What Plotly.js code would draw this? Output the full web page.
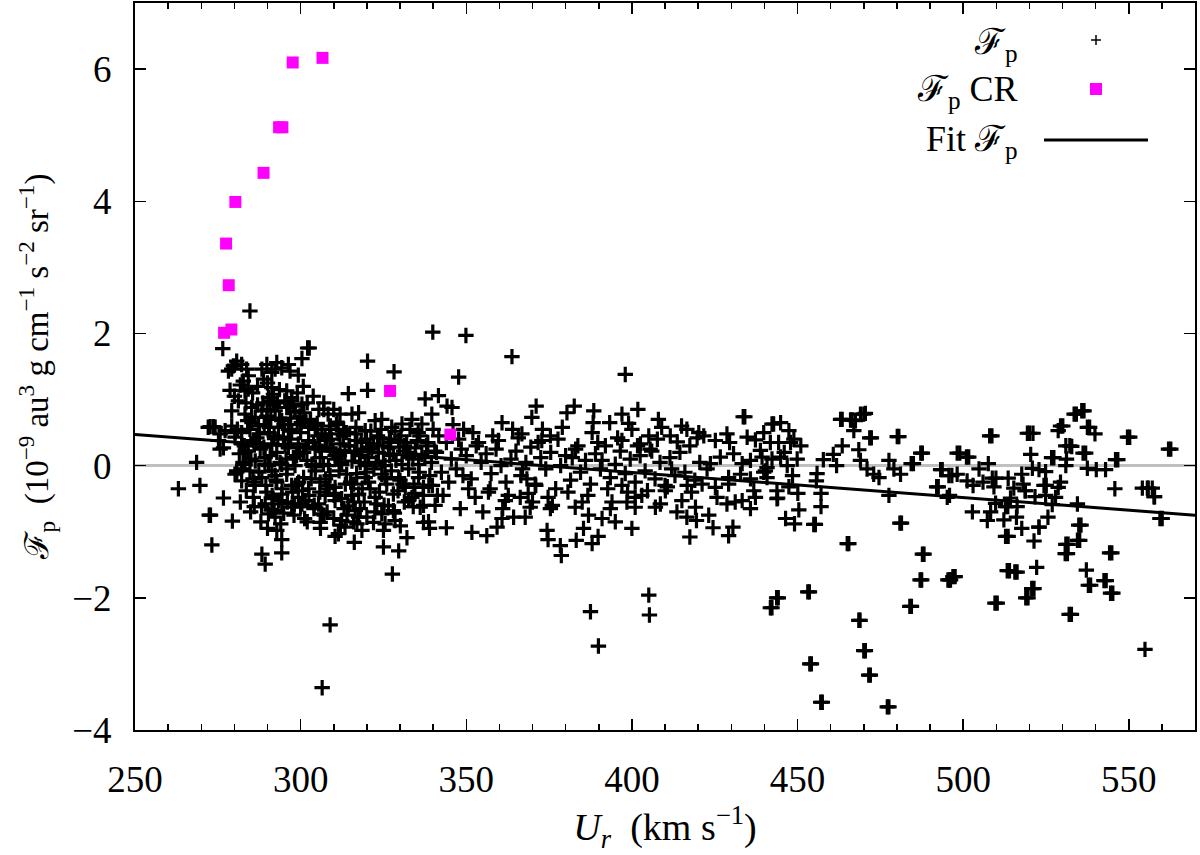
<!DOCTYPE html>
<html>
<head>
<meta charset="utf-8">
<script src="https://cdn.plot.ly/plotly-3.0.1.min.js"></script>
<style>html,body{margin:0;padding:0;background:#fff;}#chart{width:1200px;height:855px;}</style>
</head>
<body>
<div id="chart"></div>
<script>
// ---- Data ----
// Fp (black plus) : left dense region
const urA1 = [278.2,279.7,280.7,282.2,283.7,284.2,282.7,279.2,283.2,284.2,278.7,288.3,289.8,291.3,292.8,294.3,296.3,296.8,288.8,292.3,291.3,291.8,295.8,297.3,290.8,290.3,299.3,300.4,302.1,302.6,284.7,276.5];
const fpA1 = [1.43,1.51,1.58,1.53,1.46,1.36,1.28,1.46,1.13,1.16,1.14,1.46,1.53,1.41,1.56,1.48,1.53,1.43,1.31,1.46,1.18,1.08,1.13,1.03,0.98,1.03,1.37,1.62,1.78,1.78,2.34,1.77];
const urA2 = [279.2,281.2,283.2,285.2,286.3,288.3,289.8,287.3,292.3,294.3,295.8,297.3,298.3,300.4,299.8,293.3,279.2,280.2,277.2,275.7,273.7,272.7,282.2,284.7,290.3,296.3,302.4,304.4,306.4,301.4];
const fpA2 = [0.83,0.98,0.78,0.88,0.73,0.83,0.75,0.60,0.83,0.68,0.88,0.98,0.83,0.93,0.75,0.58,0.60,0.50,0.53,0.48,0.59,0.59,0.50,0.55,0.50,0.55,0.58,0.55,0.48,0.68];
const urA3 = [275.2,276.7,280.2,282.2,284.2,285.7,287.8,289.3,291.3,292.8,294.8,296.3,297.8,299.3,300.9,302.4,304.4,305.9,307.4,308.9,310.4,311.9,313.4,315.5,317.0,318.5,320.5,322.0,323.5,325.0,326.5,328.0,329.6,331.1,332.6,334.6,336.6,283.2,286.3,290.3,294.3,298.3,303.4,308.4,312.4,319.5,325.5,330.6,335.6,319.5,322.5,324.5,327.5,330.6,333.6,336.6,316.5,311.4,311.9,315.5,317.5];
const fpA3 = [0.38,0.27,0.43,0.33,0.22,0.38,0.25,0.12,0.33,0.20,0.43,0.27,0.12,0.33,0.20,0.38,0.25,0.12,0.43,0.27,0.15,0.33,0.20,0.07,0.38,0.25,0.12,0.33,0.20,0.07,0.27,0.17,0.38,0.22,0.12,0.27,0.17,0.02,0.07,0.00,0.02,0.00,0.02,0.00,0.02,0.00,0.00,0.02,0.02,0.53,0.68,0.70,0.58,0.63,0.70,0.63,0.48,0.48,0.78,0.78,0.80];
const urA4 = [280.2,282.2,284.7,286.3,288.3,289.8,291.3,292.8,294.3,295.8,297.3,299.3,300.9,302.4,304.4,305.9,307.4,308.9,310.4,312.4,313.9,316.0,317.5,319.5,321.0,322.5,324.5,326.0,328.0,329.6,331.6,333.6,335.6,337.1,280.7,285.7,293.3,301.4,310.4];
const fpA4 = [-0.13,-0.23,-0.08,-0.30,-0.18,-0.40,-0.08,-0.25,-0.43,-0.13,-0.30,-0.48,-0.18,-0.35,-0.08,-0.25,-0.45,-0.15,-0.33,-0.50,-0.13,-0.28,-0.43,-0.18,-0.35,-0.48,-0.13,-0.28,-0.43,-0.18,-0.33,-0.48,-0.18,-0.33,-0.10,-0.48,-0.53,-0.53,-0.53];
const urA5 = [289.3,290.3,291.3,292.3,294.3,305.4,306.4,305.9,314.4,316.5,317.5,317.0,318.5,312.4,313.4,311.4,324.5,325.5,325.0,328.0,328.5,330.1,322.0,323.0,326.5,332.6,336.1,337.1,300.4,297.3];
const fpA5 = [-0.58,-0.73,-0.66,-0.78,-0.58,-0.58,-0.73,-0.86,-0.61,-0.68,-0.78,-0.88,-0.98,-0.83,-0.93,-1.03,-0.73,-0.88,-0.98,-0.68,-0.83,-0.91,-0.86,-0.58,-0.61,-0.53,-0.63,-0.86,-0.58,-0.63];
const urA6 = [281.5,283.0,285.0,286.8,288.9,290.8,292.0,293.8,295.3,297.0,298.8,300.0,301.9,303.9,305.2,306.9,308.0,309.8,311.0,312.9,314.8,316.3,318.0,319.9,321.5,323.2,324.9,326.8,328.8,330.3,332.0,333.9,335.2];
const fpA6 = [0.18,0.30,0.10,0.42,0.28,0.15,0.45,0.05,0.32,0.40,0.15,0.50,0.08,0.35,0.45,0.02,0.38,0.22,0.10,0.45,0.30,0.20,0.05,0.40,0.25,0.45,0.30,0.40,0.08,0.45,0.35,0.10,0.38];
const urA7 = [282.1,283.6,285.6,287.4,289.5,291.4,292.6,294.4,295.9,297.6,299.4,300.6,302.5,304.5,305.8,307.5,308.6,310.4,311.6,313.5,315.4,316.9,318.6,320.5,322.1,323.8,325.5,327.4,329.4,330.9,332.6,334.5,335.8];
const fpA7 = [-0.05,-0.38,-0.20,-0.10,-0.30,-0.45,-0.22,-0.35,-0.05,-0.40,-0.25,-0.38,-0.45,-0.02,-0.40,-0.20,-0.30,-0.42,-0.08,-0.28,-0.45,-0.12,-0.35,-0.25,-0.05,-0.40,-0.18,-0.08,-0.38,-0.28,-0.05,-0.42,-0.10];
const urA8 = [285.3,287.0,289.0,291.0,293.0,295.0,297.0,299.0,301.0,303.0,305.0,307.0,309.0,311.0,313.0,286.0,288.0,290.0,292.0,294.0,296.0,298.0,300.0,302.0,304.0,306.0,308.0,310.0,312.0,314.0,316.0,318.0,320.0];
const fpA8 = [0.65,0.92,0.62,0.70,0.95,0.62,0.72,0.62,0.80,0.70,0.64,0.85,0.60,0.66,0.55,-0.62,-0.85,-0.95,-0.68,-0.88,-0.55,-0.75,-0.62,-0.85,-0.65,-0.95,-0.70,-0.80,-0.90,-0.75,-0.55,-0.65,-0.78];
const urA9 = [280.9,282.6,284.0,285.9,287.6,289.2,290.6,292.3,293.6,295.6,297.3,298.5,300.2,301.7,303.2,304.8,306.3,307.8,309.3,310.8,312.3,313.8,315.1,316.7,318.3,319.8,321.2,322.8,324.3,325.8,327.2,328.5,330.0,331.4,333.0,334.2,336.0,337.5,339.0,340.5];
const fpA9 = [0.55,0.05,0.68,-0.25,0.48,0.02,0.58,-0.15,0.72,0.10,0.52,-0.30,0.65,0.28,-0.20,0.60,0.22,-0.35,0.40,0.62,0.05,0.50,-0.25,0.58,0.35,-0.10,0.52,0.05,0.55,-0.20,0.35,0.52,-0.22,0.30,0.55,-0.28,0.45,0.12,-0.15,0.22];
const urA10 = [281.8,283.3,284.9,286.5,288.2,289.9,291.6,293.1,294.9,296.6,298.1,299.8,301.2,302.9,304.1,305.6,307.1,308.7,310.1,311.7,313.1,314.6,316.0,317.8,319.2,320.9,322.4,324.0,325.2,326.9,328.3,329.8,331.3,332.9,334.0,335.5,337.0,338.4,339.8,341.3];
const fpA10 = [-0.55,0.22,-0.70,0.35,-0.62,0.85,-0.50,0.40,-0.72,0.88,-0.58,0.20,-0.80,0.68,-0.60,0.30,-0.75,0.55,-0.45,0.15,-0.65,0.30,-0.85,0.15,-0.55,0.28,-0.70,0.42,-0.60,0.15,-0.72,0.28,-0.55,0.20,-0.62,0.50,-0.45,0.35,-0.30,-0.45];
const urA11 = [280.0,281.8,283.5,285.5,287.0,288.6,290.0,291.8,293.6,295.2,297.8,299.0,300.8,302.0,303.8,305.5,307.0,308.3,310.0];
const fpA11 = [1.05,1.22,0.95,1.10,1.20,0.95,1.25,0.92,1.15,0.98,0.90,1.10,1.20,0.95,1.05,0.85,0.95,0.78,0.85];
const urL = [272.1,274.2,275.7,268.6,263.1,269.6,280.7,292.8,294.3,288.3,289.3,294.3,310.4,316.2,325.0,329.6,332.1,327.7,279.4,272.4,272.8,273.2,276.7,339.9,349.9,363.8,347.7,398.0,320.2,328.2,314.4,320.2,308.9,306.5];
const fpL = [0.58,0.58,0.25,0.05,-0.35,-0.30,-0.08,-0.98,-1.12,-1.34,-1.49,-1.32,-1.07,-1.16,-1.23,-1.29,-1.09,-1.64,-0.84,-0.75,-0.75,-1.20,-0.49,2.02,1.97,1.65,1.34,1.38,1.58,1.42,1.09,1.14,-2.41,-3.36];
// middle region 337-450
const urB1 = [337.6,341.6,344.2,345.7,339.6,349.2,360.8,369.8,371.1,366.8,380.4,382.6,388.5,388.3,393.3,397.0,399.0,401.8,408.0,375.4,372.8,397.0,405.1,411.6,416.6,420.2,402.6];
const fpB1 = [1.01,1.06,0.90,0.88,0.78,0.55,0.65,0.73,0.90,0.48,0.80,0.90,0.83,0.65,0.65,0.78,0.64,0.85,0.70,0.45,0.38,0.38,0.45,0.45,0.55,0.50,0.33];
const urB2 = [337.1,340.6,338.6,338.9,344.0,348.2,351.7,352.7,356.2,359.3,360.8,357.2,361.8,364.3,366.3,367.8,369.3,368.3,370.8,374.4,374.7,375.4,378.4,378.7,383.2,382.9,385.4,388.0,389.8,386.9,391.0,395.0,393.5,398.5,401.0,400.0,401.0,407.1,410.1,413.6,415.1,416.6,419.2,419.5,417.5,408.6,405.1,405.3,387.5,389.9];
const fpB2 = [-0.60,-0.60,-0.85,-0.95,-0.94,-0.65,-1.01,-0.48,-1.06,-0.93,-0.80,-0.35,-0.53,-0.78,-0.48,-0.78,-0.63,-0.20,-0.28,-0.98,-1.12,-0.65,-1.21,-1.36,-1.13,-0.63,-0.95,-1.18,-1.07,-0.75,-0.80,-0.85,-0.65,-0.55,-0.48,-0.95,-0.63,-0.63,-0.38,-0.70,-0.53,-0.78,-0.63,-0.83,-1.08,-0.58,-1.96,-2.26,-2.21,-2.73];
const urB3 = [338,339.5,341,342.5,344,345.5,347,348.5,350,351.5,353,354.5,356,357.5,359,360.5,362,363.5,365,366.5,368,369.5,371,372.5,374,375.5,377,378.5,380,381.5,383,384.5,386,387.5,389,390.5,392,393.5,395,396.5,398,399.5,401,402.5,404,405.5,407,408.5,410,411.5,413,414.5,416,417.5,419,420.5];
const fpB3 = [0.30,0.05,0.20,-0.10,0.35,0.10,-0.05,0.25,0.15,-0.20,0.30,0.05,0.18,-0.12,0.25,0.00,-0.25,0.10,0.22,-0.15,0.05,0.28,-0.30,0.12,-0.05,0.20,-0.35,0.00,0.15,-0.22,0.25,-0.10,0.08,-0.28,0.18,-0.05,0.30,-0.18,0.02,0.22,-0.12,0.10,-0.25,0.15,-0.08,0.25,-0.20,0.05,-0.30,0.12,-0.15,0.20,-0.10,0.30,-0.22,0.05];
const urB4 = [338.7,341.7,344.7,347.7,350.7,353.7,356.7,359.7,362.7,365.7,368.7,371.7,374.7,377.7,380.7,383.7,386.7,389.7,392.7,395.7,398.7,401.7,404.7,407.7,410.7,413.7,416.7,419.7];
const fpB4 = [-0.30,0.45,-0.25,0.40,-0.35,0.35,-0.40,0.38,-0.45,0.42,-0.42,0.35,-0.48,0.40,-0.40,0.30,-0.45,0.35,-0.35,0.42,-0.40,0.30,-0.38,0.40,-0.32,0.36,-0.30,0.42];
const urB5 = [340.0,343.0,346.0,349.0,352.0,355.0,358.0,361.0,364.0,367.0,370.0,373.0,376.0,379.0,382.0,385.0,388.0,391.0,394.0,397.0,400.0,403.0,406.0,409.0,412.0,415.0,418.0,446.0,448.5,451.0];
const fpB5 = [0.55,-0.45,0.62,-0.15,0.50,-0.70,0.45,-0.65,0.55,-0.05,-0.55,0.55,-0.60,0.58,0.12,-0.55,0.50,0.08,-0.55,-0.30,0.55,-0.45,0.22,0.58,-0.05,0.60,-0.40,0.20,-0.15,0.30];
// region 420-500
const urC1 = [433.6,442.3,444.9,447.4,448.9,463.5,466.0,467.5,469.0,470.5,467.0,463.5,471.8,480.1,487.2,468.5,469.0,457.8,460.8,461.8,455.9,455.7,457.1,457.1,454.9,450.4,450.1,447.4,446.4,449.1,444.0,471.0,473.0,474.6,477.6,479.1,481.1,484.3,477.6,480.9,465.0,487.7,487.0,483.9,468.5,470.0,471.5,477.1,457.0,453.7,453.1,443.7,441.8,493.2,492.0,495.4,495.2];
const fpC1 = [0.74,0.63,0.65,0.53,0.40,0.70,0.69,0.68,0.78,0.79,0.53,0.30,0.42,0.44,0.19,0.24,0.08,0.09,0.17,0.00,-0.12,-0.23,-0.42,-0.62,-0.89,-0.67,-0.42,-0.32,-0.80,-0.88,-0.49,-0.05,-0.13,-0.18,0.08,-0.05,-0.13,0.03,-0.45,-0.87,-1.18,-1.34,-1.73,-2.13,-2.34,-2.80,-3.17,-3.65,-3.58,-3.00,-1.91,-2.00,-2.15,-0.06,-0.32,-1.73,-0.48];
const urC2 = [457.5,454.2,453.6,444.2,442.3,468.9,470.5,472.0,477.6,488.2,487.5,484.4,465.5,481.4,495.9,455.4,485.0,493.7,492.5,480.6,472.3,487.7,434.1,442.8,463.0,466.5,470.0];
const fpC2 = [-3.58,-3.00,-1.91,-2.00,-2.15,-2.34,-2.80,-3.17,-3.65,-1.34,-1.73,-2.13,-1.18,-0.87,-1.73,-0.89,0.03,-0.06,-0.32,0.44,0.42,0.19,0.74,0.63,0.70,0.69,0.78];
const urC3 = [421.7,425.2,428.7,429.5,434.8,437.3,439.8,441.8,444.3,447.9,430.7,426.7,423.7,422.7,433.3,435.8,438.8,439.3,440.8,442.3,444.9,446.9,449.9,429.2,432.8,435.8,440.8,439.8,421.2,425.2,429.2,425.7,428.7,431.2,433.3,436.8,437.3,443.8,443.8,435.8,423.2,424.5,429.2,430.5,440.3];
const fpC3 = [0.45,0.38,0.48,0.35,0.43,0.39,0.50,0.35,0.35,0.35,0.18,0.13,0.03,-0.05,0.03,0.08,0.23,0.13,-0.03,0.10,0.13,0.00,0.10,-0.18,-0.13,-0.20,-0.18,-0.10,-0.28,-0.33,-0.28,-0.48,-0.58,-0.55,-0.53,-0.38,-0.48,-0.38,-0.50,-0.65,-0.75,-0.94,-1.06,-0.93,-0.08];
// region 495-565
const urD1 = [533.5,535.8,529.4,528.7,537.5,539.8,549.6,562.0,546.0,508.0,519.4,521.1,498.2,501.0,507.6,504.8,520.4,526.7,531.0,532.8,531.2,531.0,536.2,537.5,540.2,520.9,522.9,524.9,517.7,513.6,495.7,498.2,501.2,503.0,506.0,508.8,509.3,515.3,518.1,518.7,524.4,529.4,528.7,521.7,524.9,527.9,526.9,534.5,545.8,554.1,557.1,557.6,559.4,509.8,512.8,514.3,516.3,508.3,502.8,507.3,512.3,516.1,517.7,512.8,522.9,525.6,521.4,534.9,534.5,531.0,530.8,544.2,522.2,513.3,515.6,537.2,537.8,542.5,544.5,520.7,518.9,509.6,532.0,554.9,496.2,496.9,495.9];
const fpD1 = [0.78,0.83,0.60,0.53,0.58,0.48,0.43,0.25,0.09,0.45,0.49,0.49,0.19,0.13,0.03,-0.05,0.17,0.12,0.30,0.29,0.10,0.00,0.19,-0.04,-0.06,-0.04,-0.06,-0.09,-0.13,-0.19,-0.15,-0.13,-0.23,-0.30,-0.25,-0.19,-0.32,-0.34,-0.28,-0.38,-0.30,-0.25,-0.33,-0.47,-0.45,-0.48,-0.59,-0.58,-0.35,-0.34,-0.34,-0.47,-0.80,-0.57,-0.62,-0.49,-0.62,-0.70,-0.70,-0.83,-0.82,-0.78,-0.95,-1.07,-0.93,-0.78,-1.14,-0.90,-1.13,-1.19,-1.33,-1.32,-1.54,-1.59,-1.61,-1.58,-1.81,-1.74,-1.93,-1.86,-2.00,-2.08,-2.25,-2.78,-1.73,-1.68,-0.45];
const urD2 = [534.2,536.5,530.1,538.2,550.3,562.7,546.7,508.7,520.1,499.0,501.7,527.4,532.2,537.0,543.0,509.9,555.6,555.9,557.8,560.1,513.5,513.6,522.9,535.6,535.2,531.7,531.5,544.9,514.0,516.3,538.5,543.2,545.2,521.4,519.6,510.3,532.7,497.6,518.8,525.1,496.6];
const fpD2 = [0.78,0.83,0.60,0.58,0.43,0.25,0.09,0.45,0.49,0.19,0.13,0.12,0.30,0.19,-0.06,-0.19,-0.34,-0.34,-0.47,-0.80,-0.62,-1.07,-0.93,-0.90,-1.13,-1.19,-1.33,-1.32,-1.59,-1.61,-1.81,-1.74,-1.93,-1.86,-2.00,-2.08,-2.25,-1.68,-0.38,-0.30,-0.15];
// Fp CR (magenta squares)
const urCR = [276.9,279.1,278.3,277.5,280.3,288.8,293.5,294.5,297.6,306.6,327.0,345.2];
const fpCR = [2.01,2.06,2.73,3.36,3.99,4.43,5.12,5.12,6.10,6.17,1.13,0.47];
// Fit Fp (straight line end points)
const urFit = [250, 570];
const fpFit = [0.47, -0.75];
// axis ticks
const xTicks = [250,300,350,400,450,500,550];
const yTicks = [-4,-2,0,2,4,6];

const ur = [].concat(urA1,urA2,urA3,urA4,urA5,urA6,urA7,urA8,urA9,urA10,urA11,urL,urB1,urB2,urB3,urB4,urB5,urC1,urC2,urC3,urD1,urD2);
const fp = [].concat(fpA1,fpA2,fpA3,fpA4,fpA5,fpA6,fpA7,fpA8,fpA9,fpA10,fpA11,fpL,fpB1,fpB2,fpB3,fpB4,fpB5,fpC1,fpC2,fpC3,fpD1,fpD2);

const FONT = "Liberation Serif, DejaVu Serif, serif";
const FP = "\u2131<sub>p</sub>";

const traces = [
  {x: ur, y: fp, type: 'scatter', mode: 'markers', name: FP,
   marker: {symbol: 'cross-thin', size: 11, color: '#000', line: {color: '#000', width: 3.2}},
   hoverinfo: 'x+y'},
  {x: urCR, y: fpCR, type: 'scatter', mode: 'markers', name: FP + ' CR',
   marker: {symbol: 'square', size: 12, color: '#ff00ff', line: {width: 0}}},
  {x: urFit, y: fpFit, type: 'scatter', mode: 'lines', name: 'Fit ' + FP,
   line: {color: '#000', width: 3}}
];

const L = 135, R = 1195, T = 3, B = 730;
function px(x){ return (x - L) / (R - L); }
function py(y){ return (B - y) / (B - T); }

const layout = {
  width: 1200, height: 855,
  margin: {l: L, r: 1200 - R, t: T, b: 855 - B},
  paper_bgcolor: '#fff', plot_bgcolor: '#fff',
  showlegend: false,
  font: {family: FONT, color: '#000', size: 34},
  xaxis: {
    range: [250, 570], tickvals: xTicks, ticks: 'inside', ticklen: 11, tickwidth: 1.5, tickcolor: '#000',
    showline: true, linewidth: 2, linecolor: '#000', mirror: 'allticks',
    showgrid: false, zeroline: false,
    minor: {ticks: 'inside', ticklen: 6, dtick: 10, tick0: 250, tickwidth: 1.5, tickcolor: '#000', showgrid: false},
    tickfont: {family: FONT, size: 37, color: '#000'},
    ticklabelstandoff: 16,
    title: {text: '<i>U<sub>r</sub></i>  (km s<sup>\u22121</sup>)', font: {family: FONT, size: 38, color: '#000'}, standoff: 14},
    automargin: false
  },
  yaxis: {
    range: [-4, 7], tickvals: yTicks, ticks: 'inside', ticklen: 11, tickwidth: 1.5, tickcolor: '#000',
    showline: true, linewidth: 2, linecolor: '#000', mirror: 'allticks',
    showgrid: false, zeroline: true, zerolinecolor: '#c0c0c0', zerolinewidth: 2.5,
    tickfont: {family: FONT, size: 37, color: '#000'},
    ticklabelstandoff: 14,
    title: {text: FP + '  (10<sup>\u22129</sup> au<sup>3</sup> g cm<sup>\u22121</sup> s<sup>\u22122</sup> sr<sup>\u22121</sup>)', font: {family: FONT, size: 33, color: '#000'}, standoff: 14},
    automargin: false
  },
  annotations: [
    {xref: 'paper', yref: 'paper', x: px(1020), y: py(44), xanchor: 'right', yanchor: 'middle', showarrow: false, text: FP, font: {family: FONT, size: 36}},
    {xref: 'paper', yref: 'paper', x: px(1020), y: py(92), xanchor: 'right', yanchor: 'middle', showarrow: false, text: FP + ' CR', font: {family: FONT, size: 36}},
    {xref: 'paper', yref: 'paper', x: px(1020), y: py(141), xanchor: 'right', yanchor: 'middle', showarrow: false, text: 'Fit ' + FP, font: {family: FONT, size: 36}}
  ],
  shapes: [
    {type: 'line', xref: 'paper', yref: 'paper', x0: px(1091), x1: px(1101), y0: py(40), y1: py(40), line: {color: '#000', width: 1.5}},
    {type: 'line', xref: 'paper', yref: 'paper', x0: px(1096), x1: px(1096), y0: py(35), y1: py(45), line: {color: '#000', width: 1.5}},
    {type: 'rect', xref: 'paper', yref: 'paper', x0: px(1090), x1: px(1102), y0: py(83), y1: py(95), fillcolor: '#ff00ff', line: {width: 0}},
    {type: 'line', xref: 'paper', yref: 'paper', x0: px(1044), x1: px(1148), y0: py(140), y1: py(140), line: {color: '#000', width: 3}}
  ]
};

Plotly.newPlot('chart', traces, layout, {displayModeBar: false, staticPlot: true});
</script>
</body>
</html>
